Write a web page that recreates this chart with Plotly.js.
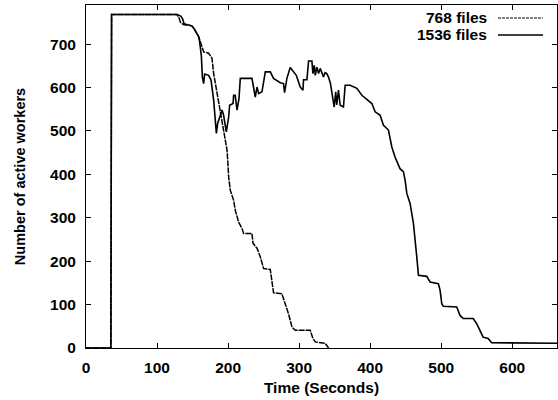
<!DOCTYPE html>
<html>
<head>
<meta charset="utf-8">
<script src="https://cdn.plot.ly/plotly-3.0.1.min.js"></script>
<style>html,body{margin:0;padding:0;background:#fff}#chart{width:558px;height:400px}</style>
</head>
<body>
<div id="chart"></div>
<script>
const seriesNames = ["768 files", "1536 files"];

const time768 = [0,35,36,128,131,133,137,149,152,156,158.6,162,165.6,172.6,177.4,179.7,184.4,186.7,189,191.5,193.7,196,198.5,199.5,200.8,203.2,207.8,210.2,212.6,214.8,219.6,221.9,233.6,235,238.3,240.7,245.3,250,259.4,261.8,264,275.8,280.5,285,290,294.5,315.6,319.4,322.7,336.7,341.4];
const workers768 = [0,0,768,768,760,750,745,742,736,724,717,700,682,679,667,632,586,563,540,517,494,471,456,432,394,363,340,317,302,290,275,264,264,242,234,230,210,183,181,156,127,125,102,79,48,41,41,22,14,11,0];

const time1536 = [0,35,36,128,133,136,138,149,152,156,158.6,160,161,162.4,163.8,165.6,167,172.6,176,179.7,182,183.5,185.3,188.1,190,191.5,193.7,197.5,200.8,202.2,207,207.8,210,212.6,215.4,217.2,233.6,236,238.3,240.7,243,247.7,250,252.4,259.4,264,273.4,278,279.5,282.8,287.5,292,296,301.6,305.4,306.2,311,313.3,318,319.4,321.3,322.7,325,327.3,329.7,334.3,336.5,339,341.4,344,347.5,349.4,351.5,353,355.4,357.8,362.4,364.8,371.9,381.3,388.3,393,402.4,407,414,418.7,425.7,430.5,435,442,446.8,449.2,451.6,456.2,460.9,465.6,468,479.7,484.3,496,498.4,500.8,503,521.9,526.5,531,545,550,554.6,559,566,571,663];
const workers1536 = [0,0,768,768,765,758,747,742,736,724,717,705,690,672,624,609,631,628,617,571,525,494,517,529,540,548,536,498,532,559,563,582,582,548,575,621,621,598,578,601,586,590,613,636,636,621,611,609,588,621,646,636,628,601,594,618,618,661,661,632,651,628,647,632,644,624,634,632,624,610,578,555,590,560,594,559,555,605,605,598,582,575,563,544,536,513,502,463,440,413,406,386,356,333,287,210,167.5,165,152,148,133,102,96,94.5,75,68,68,56,41,25,22,12,11,11];

const xTicks = [0,100,200,300,400,500,600];
const yTicks = [0,100,200,300,400,500,600,700];

const family = "Liberation Sans, Arial, sans-serif";
const tickFont = {family: family, size: 15.5, color: "#000", weight: "bold"};
const titleFont = {family: family, size: 15.5, color: "#000", weight: "bold"};
const keyFont = {family: family, size: 15.5, color: "#000", weight: "bold"};

const traces = [
  {x: time768, y: workers768, name: seriesNames[0], type: "scatter", mode: "lines",
   line: {color: "#000", width: 1.5, dash: "6px,1px"}},
  {x: time1536, y: workers1536, name: seriesNames[1], type: "scatter", mode: "lines",
   line: {color: "#000", width: 1.6}}
];

// custom gnuplot-style key (text left of sample)
const plotL = 86, plotR = 557, plotT = 5, plotB = 348;
const px2x = p => (p - plotL) / (plotR - plotL);
const py2y = p => (plotB - p) / (plotB - plotT);
const keyRows = [18, 35];
const annotations = seriesNames.map((n, i) => ({
  xref: "paper", yref: "paper", x: px2x(489), y: py2y(keyRows[i]),
  xanchor: "right", yanchor: "middle", text: n, showarrow: false, font: keyFont
}));
const shapes = seriesNames.map((n, i) => ({
  type: "line", xref: "paper", yref: "paper",
  x0: px2x(498), x1: px2x(543), y0: py2y(keyRows[i]), y1: py2y(keyRows[i]),
  line: {color: "#000", width: i === 0 ? 1 : 1.3, dash: i === 0 ? "3px,1px" : "solid"}
}));

const axisCommon = {
  showgrid: false, zeroline: false, showline: true, linecolor: "#000", linewidth: 1,
  mirror: "ticks", ticks: "inside", ticklen: 5, tickwidth: 1, tickcolor: "#000",
  tickfont: tickFont
};

const layout = {
  width: 558, height: 400,
  margin: {l: plotL, r: 558 - plotR, t: plotT, b: 400 - plotB},
  paper_bgcolor: "#fff", plot_bgcolor: "#fff",
  showlegend: false,
  xaxis: Object.assign({}, axisCommon, {
    range: [0, 663], tickvals: xTicks, ticktext: xTicks.map(String),
    ticklabelstandoff: 5,
    title: {text: "Time (Seconds)", font: titleFont, standoff: 7}
  }),
  yaxis: Object.assign({}, axisCommon, {
    range: [0, 790], tickvals: yTicks, ticktext: yTicks.map(String),
    ticklabelstandoff: 6,
    title: {text: "Number of active workers", font: {family: family, size: 14.5, color: "#000", weight: "bold"}, standoff: 20}
  }),
  annotations: annotations,
  shapes: shapes
};

Plotly.newPlot("chart", traces, layout, {staticPlot: true, displayModeBar: false});
</script>
</body>
</html>
